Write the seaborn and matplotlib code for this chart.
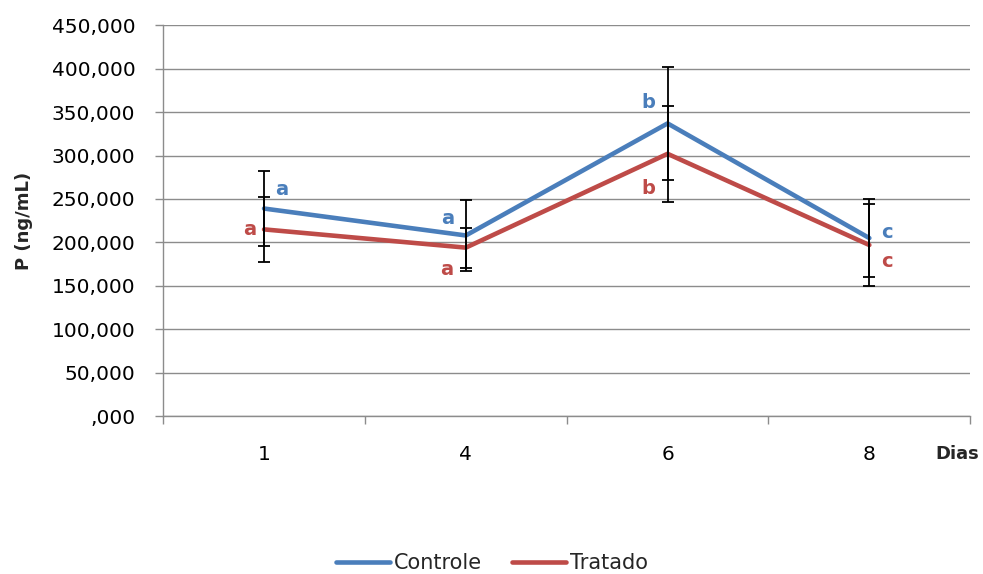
import pandas as pd
import seaborn as sns
import matplotlib.pyplot as plt
from matplotlib.ticker import FuncFormatter, FixedLocator

# dados (P em ng/mL)
dias = ['1', '4', '6', '8']
controle = [239, 208, 337, 205]
tratado = [215, 194, 302, 197]
controle_err = [43, 41, 65, 45]
tratado_err = [37, 23, 55, 47]
controle_letras = ['a', 'a', 'b', 'c']
tratado_letras = ['a', 'a', 'b', 'c']

azul = '#4A7EBB'
vermelho = '#BE4B48'
cinza = '#8C8C8C'

sns.set_style('white')
plt.rcParams['font.family'] = ['DejaVu Sans']

df = pd.DataFrame({
    'Dias': dias * 2,
    'P': controle + tratado,
    'Grupo': ['Controle'] * len(dias) + ['Tratado'] * len(dias),
})

fig, ax = plt.subplots(figsize=(9.83, 5.74), dpi=100)
fig.subplots_adjust(left=0.166, right=0.987, top=0.956, bottom=0.275)

sns.lineplot(data=df, x='Dias', y='P', hue='Grupo', palette=[azul, vermelho],
             linewidth=3.3, sort=False, ax=ax, legend=False)

ax.errorbar(dias, controle, yerr=controle_err, fmt='none', ecolor='black',
            elinewidth=1.3, capsize=4.5, capthick=1.3, zorder=5)
ax.errorbar(dias, tratado, yerr=tratado_err, fmt='none', ecolor='black',
            elinewidth=1.3, capsize=4.5, capthick=1.3, zorder=5)

# letras de significancia
off_c = [(13, 14), (-13, 12), (-14, 15), (13, 4)]
off_t = [(-10, 0), (-14, -16), (-14, -25), (13, -12)]
for i, d in enumerate(dias):
    ax.annotate(controle_letras[i], xy=(i, controle[i]), xytext=off_c[i],
                textcoords='offset points', ha='center', va='center',
                color=azul, fontsize=14, fontweight='bold')
    ax.annotate(tratado_letras[i], xy=(i, tratado[i]), xytext=off_t[i],
                textcoords='offset points', ha='center', va='center',
                color=vermelho, fontsize=14, fontweight='bold')

ax.set_ylim(0, 450)
ax.set_yticks(range(0, 451, 50))
ax.yaxis.set_major_formatter(FuncFormatter(lambda v, p: f'{int(v)},000' if v else ',000'))
ax.set_xlim(-0.5, len(dias) - 0.5)
ax.xaxis.set_minor_locator(FixedLocator([i - 0.5 for i in range(len(dias) + 1)]))

ax.grid(axis='y', color=cinza, linewidth=1)
ax.grid(axis='x', visible=False)
ax.set_axisbelow(True)
for s in ['top', 'right']:
    ax.spines[s].set_visible(False)
for s in ['left', 'bottom']:
    ax.spines[s].set_color(cinza)
    ax.spines[s].set_linewidth(1)

ax.tick_params(axis='y', which='major', left=True, length=6, width=1, color=cinza,
               pad=14, labelsize=14.5, labelcolor='black')
ax.tick_params(axis='x', which='major', bottom=False, length=0, pad=21,
               labelsize=14.5, labelcolor='black')
ax.tick_params(axis='x', which='minor', bottom=True, length=6, width=1, color=cinza)

ax.set_ylabel('P (ng/mL)', fontsize=13, fontweight='bold')
ax.yaxis.set_label_coords(-0.161, 0.5)
ax.set_xlabel('Dias', fontsize=13, fontweight='bold')
ax.xaxis.set_label_coords(0.984, -0.074)

h1, = ax.plot([], [], color=azul, linewidth=3.3)
h2, = ax.plot([], [], color=vermelho, linewidth=3.3)
fig.legend([h1, h2], ['Controle', 'Tratado'], loc='center',
           bbox_to_anchor=(492 / 983, 1 - 563 / 574), ncol=2, frameon=False,
           fontsize=15, handlelength=2.6, handletextpad=0.2, columnspacing=1.4)

plt.savefig('out.png', dpi=100)
